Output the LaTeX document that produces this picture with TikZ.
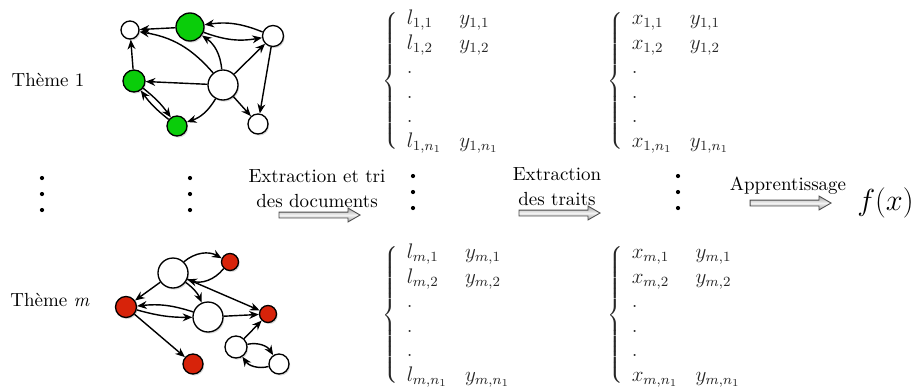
\documentclass[tikz,border=0pt]{standalone}
\usetikzlibrary{positioning, arrows.meta, shapes.arrows, shadows}

\definecolor{topicgreen}{RGB}{10,205,10}
\definecolor{topicred}{RGB}{215,35,10}
\delimitershortfall=9pt

\begin{document}
\begin{tikzpicture}[x=0.02cm, y=-0.02cm,
  vtx/.style={circle, draw=black, line width=0.75pt, fill=white, inner sep=0pt,
              drop shadow={opacity=0.3, shadow xshift=0.7pt, shadow yshift=-0.9pt}},
  vgreen/.style={vtx, fill=topicgreen},
  vred/.style={vtx, fill=topicred},
  edge/.style={-{Stealth[length=5.5pt, width=4.5pt]}, line width=0.8pt},
  vdot/.style={circle, fill=black, inner sep=0pt, minimum size=2.4pt},
  bigarr/.style={single arrow, draw=black!70, line width=0.5pt,
                 top color=black!35, bottom color=black!35, middle color=black!5,
                 inner xsep=0pt, inner ysep=0.05cm, minimum height=1.62cm,
                 single arrow head extend=0.08cm, single arrow tip angle=60},
  lbl/.style={align=center, inner sep=1pt, font=\fontsize{10.8}{14.2}\selectfont},
  block/.style={anchor=west, inner sep=0pt, text=black!85, font=\fontsize{12}{14}\selectfont},
]
\useasboundingbox (0,0) rectangle (916,390);

% Theme 1 graph
\node[lbl] (t1) at (48,80) {Thème 1};
\node[vtx, minimum size=0.36cm] (a) at (130,30) {};
\node[vgreen, minimum size=0.56cm] (b) at (190,27) {};
\node[vtx, minimum size=0.42cm] (c) at (273,36) {};
\node[vgreen, minimum size=0.44cm] (d) at (134,81) {};
\node[vtx, minimum size=0.6cm] (e) at (223,85) {};
\node[vgreen, minimum size=0.4cm] (f) at (177,126) {};
\node[vtx, minimum size=0.4cm] (g) at (258,124) {};

\draw[edge] (b) -- (a);
\draw[edge] (c) to[bend right=15] (b);
\draw[edge] (b) to[bend right=15] (c);
\draw[edge] (e) to[bend right=20] (a);
\draw[edge] (e) to[bend right=25] (b);
\draw[edge] (e) -- (c);
\draw[edge] (c) -- (g);
\draw[edge] (e) -- (d);
\draw[edge] (d) -- (a);
\draw[edge] (d) to[bend left=8] (f);
\draw[edge] (f) to[bend left=8] (d);
\draw[edge] (e) to[bend left=20] (f);
\draw[edge] (e) -- (g);

% Theme m graph
\node[lbl] (tm) at (50,300) {Thème \textit{m}};
\node[vtx, minimum size=0.6cm] (p) at (173,273) {};
\node[vred, minimum size=0.34cm] (q) at (230,262) {};
\node[vred, minimum size=0.42cm] (r) at (126,307) {};
\node[vtx, minimum size=0.6cm] (s) at (208,317) {};
\node[vred, minimum size=0.34cm] (t) at (268,314) {};
\node[vred, minimum size=0.4cm] (u) at (193,364) {};
\node[vtx, minimum size=0.44cm] (v) at (236,347) {};
\node[vtx, minimum size=0.4cm] (w) at (279,364) {};

\draw[edge] (p) to[bend left=35] (q);
\draw[edge] (q) to[bend left=35] (p);
\draw[edge] (p) -- (r);
\draw[edge] (p) to[bend left=15] (s);
\draw[edge] (p) -- (t);
\draw[edge] (s) to[bend right=12] (r);
\draw[edge] (r) to[bend right=8] (s);
\draw[edge] (s) -- (t);
\draw[edge] (r) -- (u);
\draw[edge] (v) -- (t);
\draw[edge] (v) to[bend left=35] (w);
\draw[edge] (w) to[bend left=35] (v);

% vertical dots between the two themes
\foreach \x/\n in {42/g1, 190/g2}
  \foreach \y [count=\k] in {178,194,210}
    \node[vdot] (\n-\k) at (\x,\y) {};
\foreach \x/\n in {413/l, 678/x}
  \foreach \y [count=\k] in {176,192,208}
    \node[vdot] (\n-\k) at (\x,\y) {};

% documents and their labels
\node[block] (ltop) at (382,81) {$\left\{\begin{array}{ll}
  l_{1,1} & y_{1,1}\\ l_{1,2} & y_{1,2}\\ . & \\ . & \\ . & \\ l_{1,n_1} & y_{1,n_1}
  \end{array}\right.$};
\node[block] (lbot) at (382,315) {$\left\{\begin{array}{ll}
  l_{m,1} & y_{m,1}\\ l_{m,2} & y_{m,2}\\ . & \\ . & \\ . & \\ l_{m,n_1} & y_{m,n_1}
  \end{array}\right.$};

% feature vectors
\node[block] (xtop) at (607,81) {$\left\{\begin{array}{ll}
  x_{1,1} & y_{1,1}\\ x_{1,2} & y_{1,2}\\ . & \\ . & \\ . & \\ x_{1,n_1} & y_{1,n_1}
  \end{array}\right.$};
\node[block] (xbot) at (607,315) {$\left\{\begin{array}{ll}
  x_{m,1} & y_{m,1}\\ x_{m,2} & y_{m,2}\\ . & \\ . & \\ . & \\ x_{m,n_1} & y_{m,n_1}
  \end{array}\right.$};

% processing steps
\node[bigarr] (arr1) at (317,215) {};
\node[lbl, above=1pt of arr1] (lab1) {Extraction et tri\\des documents};
\node[bigarr] (arr2) at (557,213) {};
\node[lbl, above=1pt of arr2] (lab2) {Extraction\\des traits};
\node[bigarr] (arr3) at (788,203) {};
\node[lbl, above=2pt of arr3] (lab3) {Apprentissage};
\node[right=0.5cm of arr3, inner sep=0pt, font=\fontsize{16}{19}\selectfont] (fx) {$f(x)$};

\end{tikzpicture}
\end{document}
